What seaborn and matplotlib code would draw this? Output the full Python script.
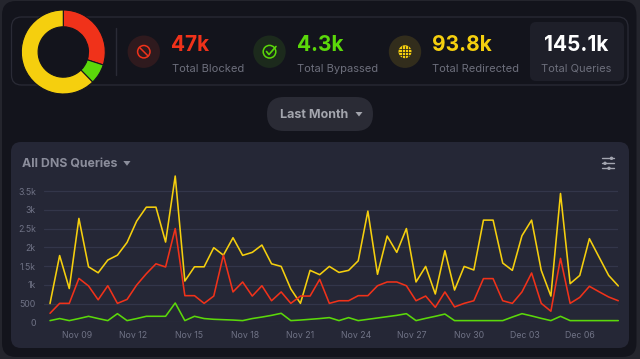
import matplotlib
matplotlib.use("Agg")
import matplotlib.pyplot as plt
from matplotlib.patches import FancyBboxPatch, Circle, Polygon
import numpy as np
import pandas as pd
import seaborn as sns

# values
redirected = [500, 1780, 900, 2770, 1480, 1320, 1660, 1790, 2130, 2700, 3070, 3070, 2140, 3900, 1100,
              1480, 1480, 1990, 1790, 2255, 1785, 1865, 2060, 1560, 1490, 890, 505, 1385, 1270, 1490,
              1330, 1385, 1640, 2965, 1280, 2300, 1865, 2500, 1075, 1490, 755, 1910, 860, 1490, 1395,
              2725, 2725, 1580, 1385, 2310, 2725, 1385, 700, 3435, 1030, 1250, 2230, 1740, 1250, 970]
blocked = [240, 505, 505, 1170, 970, 600, 975, 505, 610, 995, 1295, 1560, 1475, 2500, 710,
           710, 505, 700, 1790, 810, 1075, 700, 975, 575, 810, 505, 700, 700, 1145, 505,
           575, 575, 710, 710, 975, 1075, 1075, 975, 575, 700, 400, 810, 410, 505, 575,
           1165, 1165, 575, 505, 810, 1315, 505, 295, 1705, 505, 665, 960, 815, 675, 575]
bypassed = [45, 100, 45, 100, 160, 100, 45, 230, 45, 100, 160, 160, 160, 515, 45,
            160, 100, 80, 70, 60, 45, 100, 140, 185, 240, 45, 60, 80, 100, 125,
            45, 125, 45, 80, 115, 150, 185, 230, 45, 105, 160, 220, 45, 45, 45,
            45, 45, 45, 140, 230, 170, 105, 45, 160, 45, 45, 45, 45, 45, 45]
date_labels = ["Nov 09", "Nov 12", "Nov 15", "Nov 18", "Nov 21", "Nov 24", "Nov 27", "Nov 30", "Dec 03", "Dec 06"]
date_ticks = [2.8, 8.6, 14.4, 20.3, 26.0, 31.8, 37.6, 43.5, 49.3, 55.0]
y_ticks = [0, 500, 1000, 1500, 2000, 2500, 3000, 3500]
y_labels = ["0", "500", "1k", "1.5k", "2k", "2.5k", "3k", "3.5k"]
donut_shares = [30, 7.7, 62.3]

RED = "#f0321a"
GREEN = "#5bd80a"
YELLOW = "#f5cf0e"
GREY = "#6d6f7c"
DARK = "#13141c"

sns.set_theme(style="dark")
plt.rcParams["font.family"] = ["Inter", "DejaVu Sans"]

W, H = 640, 359
fig = plt.figure(figsize=(W / 100, H / 100), dpi=100, facecolor="#24252d")


def place(x0, y0, x1, y1, **kw):
    # axes from pixel box, y counted from the top
    return fig.add_axes([x0 / W, 1 - y1 / H, (x1 - x0) / W, (y1 - y0) / H], **kw)


def box(ax, x0, y0, x1, y1, r, fc, ec="none", lw=1, z=1):
    ax.add_patch(FancyBboxPatch((x0 + r, y0 + r), x1 - x0 - 2 * r, y1 - y0 - 2 * r,
                                boxstyle="round,pad=%s,rounding_size=%s" % (r, r),
                                fc=fc, ec=ec, lw=lw, zorder=z))


bg = place(0, 0, W, H)
bg.set_xlim(0, W)
bg.set_ylim(H, 0)
bg.axis("off")

box(bg, 2, 1, 636.5, 357, 14, DARK)
box(bg, 11.5, 17, 628, 85, 10, DARK, ec="#2a2b36", lw=0.9)
bg.plot([116, 116], [28, 75], color="#2a2b36", lw=1)
box(bg, 530, 22, 624, 81, 6, "#1e1f29")

# stat blocks
stats = [(143.8, 171.5, "47k", "Total Blocked", RED, "#2f1a1e"),
         (269.5, 297, "4.3k", "Total Bypassed", GREEN, "#1c2a1c"),
         (405, 432, "93.8k", "Total Redirected", YELLOW, "#322d1c")]
for cx, tx, big, small, col, tint in stats:
    bg.add_patch(Circle((cx, 51.7), 16.2, fc=tint, ec="none", zorder=2))
    bg.text(tx, 50.7, big, color=col, fontsize=15, fontweight="bold", va="baseline", ha="left")
    bg.text(tx, 71.7, small, color=GREY, fontsize=8, va="baseline", ha="left")
bg.text(576.5, 50.7, "145.1k", color="white", fontsize=15, fontweight="bold", va="baseline", ha="center")
bg.text(576.5, 71.7, "Total Queries", color=GREY, fontsize=8, va="baseline", ha="center")

# icons
bg.add_patch(Circle((143.8, 51.7), 6.2, fc="none", ec=RED, lw=1.1, zorder=3))
bg.plot([139.6, 148], [47.5, 55.9], color=RED, lw=1.1, zorder=3)
bg.add_patch(Circle((269.5, 51.7), 6.3, fc="none", ec=GREEN, lw=1.1, zorder=3))
bg.plot([266.5, 269, 276], [51.5, 54.5, 46.5], color=GREEN, lw=1.2, zorder=4)
bg.add_patch(Circle((405, 51.7), 6.5, fc=YELLOW, ec="none", zorder=3))
for off in (-3, 0, 3):
    bg.plot([399, 411], [51.7 + off, 51.7 + off], color="#322d1c", lw=0.6, zorder=4)
    bg.plot([405 + off, 405 + off], [45.7, 57.7], color="#322d1c", lw=0.6, zorder=4)

# period pill
box(bg, 267, 97, 373, 131, 17, "#2a2b35")
bg.text(280, 118.5, "Last Month", color="#a3a5ad", fontsize=9, fontweight="bold", va="baseline", ha="left")
bg.add_patch(Polygon([[355.5, 112], [362.5, 112], [359, 116.5]], fc="#a3a5ad", ec="none", zorder=3))

# chart card
box(bg, 11, 142, 629, 348, 10, "#252736")
bg.text(22, 167.6, "All DNS Queries", color="#8b8d9b", fontsize=8.9, fontweight="bold", va="baseline", ha="left")
bg.add_patch(Polygon([[123.3, 161], [130.5, 161], [127, 165.8]], fc="#8b8d9b", ec="none", zorder=3))
for yy, kx in ((158.3, 611.5), (163.3, 605), (168.3, 609)):
    bg.plot([601.7, 614], [yy, yy], color="#a3a5b0", lw=1, zorder=3)
    bg.add_patch(Circle((kx, yy), 1.7, fc="#a3a5b0", ec="none", zorder=4))

# lines
df = pd.DataFrame({"idx": np.arange(len(redirected)), "Redirected": redirected,
                   "Blocked": blocked, "Bypassed": bypassed})
long_df = df.melt(id_vars="idx", var_name="kind", value_name="queries")

ax = place(43.5, 172.3, 618.3, 322.3)
ax.patch.set_alpha(0)
sns.lineplot(data=long_df, x="idx", y="queries", hue="kind", ax=ax, legend=False, linewidth=1.15,
             palette={"Redirected": YELLOW, "Blocked": RED, "Bypassed": GREEN},
             hue_order=["Redirected", "Blocked", "Bypassed"], clip_on=False, zorder=3)
ax.set_xlim(-0.675, 59)
ax.set_ylim(0, 4000)
ax.set_xlabel("")
ax.set_ylabel("")
ax.set_yticks(y_ticks, y_labels)
ax.set_xticks(date_ticks, date_labels)
ax.tick_params(axis="both", length=0, labelsize=6.3, labelcolor="#6f7285")
ax.tick_params(axis="x", pad=6)
ax.tick_params(axis="y", pad=5.5)
ax.grid(axis="y", color="#33364a", lw=0.9)
ax.grid(axis="x", visible=False)
for s in ax.spines.values():
    s.set_visible(False)

# donut
pie_ax = place(63.3 - 42, 52 - 42, 63.3 + 42, 52 + 42)
pie_ax.pie(donut_shares, colors=[RED, GREEN, YELLOW], startangle=90, counterclock=False, radius=1.0,
           wedgeprops={"width": 0.4, "edgecolor": DARK, "linewidth": 0.8})
pie_ax.set_xlim(-1, 1)
pie_ax.set_ylim(-1, 1)

fig.savefig("out.png", dpi=100, facecolor=fig.get_facecolor())
